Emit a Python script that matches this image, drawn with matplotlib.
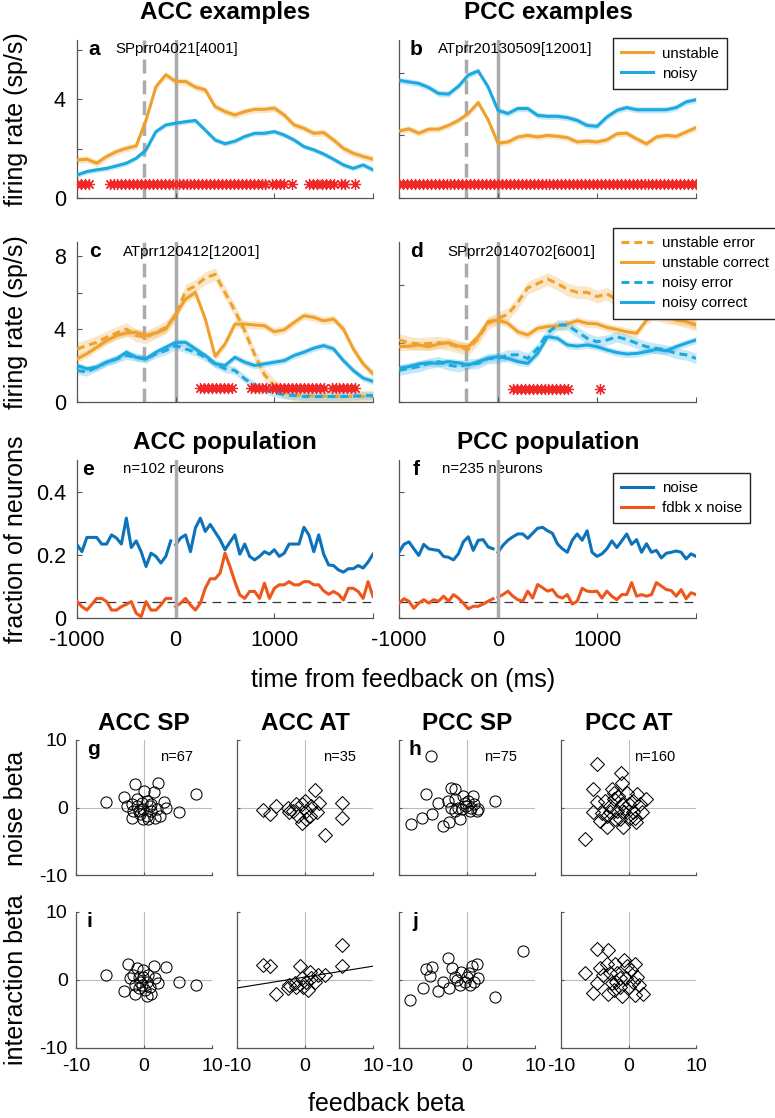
#!/usr/bin/env python3
"""
Feedback x noise figure: example neurons, population fractions, beta scatter
"""

import numpy as np
import matplotlib
matplotlib.use('Agg')
import matplotlib.pyplot as plt

plt.rcParams['font.family'] = ['Liberation Sans', 'DejaVu Sans']

# ---------------- example neurons (a-d), firing rate every 100 ms ----------------
t_ex = np.arange(-1000, 2001, 100)
cue_t = -320  # dashed line

a_unstable = [1.54, 1.57, 1.41, 1.68, 1.88, 2.01, 2.11, 3.16, 4.51, 4.99, 4.72, 4.72, 4.49, 4.38, 3.70, 3.50,
              3.36, 3.50, 3.59, 3.59, 3.64, 3.36, 2.96, 2.82, 2.62, 2.65, 2.35, 2.01, 1.81, 1.68, 1.57]
a_noisy = [0.93, 1.07, 1.14, 1.20, 1.30, 1.41, 1.61, 1.95, 2.69, 2.96, 3.03, 3.09, 3.14, 2.75, 2.35, 2.20,
           2.30, 2.49, 2.62, 2.62, 2.69, 2.55, 2.35, 2.08, 1.95, 1.78, 1.57, 1.34, 1.20, 1.34, 1.14]

b_unstable = [2.14, 2.21, 2.07, 2.20, 2.20, 2.32, 2.48, 2.70, 3.05, 2.50, 1.75, 1.79, 1.95, 2.00, 1.95, 2.00,
              1.97, 1.93, 1.79, 1.82, 1.79, 1.86, 2.05, 2.07, 1.89, 1.73, 1.95, 2.00, 1.97, 2.11, 2.25]
b_noisy = [3.76, 3.71, 3.66, 3.53, 3.34, 3.32, 3.57, 3.93, 4.06, 3.55, 2.80, 2.70, 2.86, 2.86, 2.64, 2.61,
           2.61, 2.57, 2.48, 2.32, 2.29, 2.59, 2.80, 2.89, 2.82, 2.82, 2.82, 2.82, 2.89, 3.07, 3.14]

c_unst_err = [2.91, 3.09, 3.27, 3.55, 3.78, 4.00, 3.64, 3.55, 3.82, 4.09, 4.73, 6.09, 6.36, 6.80, 7.00, 6.00,
              5.00, 3.90, 2.60, 1.50, 0.90, 0.55, 0.40, 0.35, 0.33, 0.32, 0.30, 0.30, 0.30, 0.30, 0.30]
c_unst_cor = [2.36, 2.64, 3.00, 3.36, 3.64, 3.78, 3.82, 3.64, 3.78, 4.00, 4.82, 5.64, 6.00, 4.55, 2.50, 3.18,
              4.27, 4.27, 4.22, 4.18, 3.85, 3.96, 4.36, 4.73, 4.64, 4.45, 4.55, 4.00, 2.91, 2.09, 1.55]
c_noisy_err = [1.73, 1.64, 1.91, 2.18, 2.36, 2.55, 2.45, 2.36, 2.64, 2.82, 3.09, 2.91, 2.73, 2.45, 2.09, 1.82,
               1.73, 1.27, 0.91, 0.70, 0.50, 0.40, 0.35, 0.30, 0.30, 0.30, 0.30, 0.30, 0.32, 0.35, 0.35]
c_noisy_cor = [2.00, 1.82, 1.91, 2.18, 2.36, 2.73, 2.45, 2.36, 2.73, 3.00, 3.27, 3.27, 2.91, 2.55, 2.09, 2.00,
               2.45, 2.18, 2.00, 2.09, 2.18, 2.27, 2.55, 2.73, 2.95, 3.09, 2.91, 2.27, 1.73, 1.31, 1.13]

d_unst_err = [2.12, 2.03, 1.98, 2.00, 2.03, 1.98, 1.89, 1.80, 2.18, 2.69, 2.86, 3.00, 3.40, 3.90, 4.05, 4.20,
              4.05, 3.85, 3.75, 3.75, 3.60, 3.70, 3.50, 3.30, 3.20, 3.10, 3.00, 2.90, 2.85, 2.75, 2.65]
d_unst_cor = [1.89, 1.91, 1.95, 1.89, 1.98, 2.03, 1.91, 1.89, 2.23, 2.75, 2.80, 2.69, 2.40, 2.29, 2.52, 2.58,
              2.60, 2.67, 2.78, 2.69, 2.67, 2.55, 2.48, 2.40, 2.35, 2.80, 2.97, 2.92, 2.80, 2.75, 2.63]
d_noisy_err = [1.09, 1.15, 1.21, 1.32, 1.38, 1.26, 1.21, 1.30, 1.32, 1.49, 1.49, 1.61, 1.61, 1.49, 1.83, 2.35,
               2.63, 2.63, 2.40, 2.18, 2.06, 2.12, 2.23, 2.14, 2.01, 1.89, 1.83, 1.78, 1.66, 1.61, 1.49]
d_noisy_cor = [1.15, 1.21, 1.30, 1.34, 1.32, 1.38, 1.34, 1.26, 1.38, 1.49, 1.55, 1.49, 1.38, 1.32, 1.66, 2.23,
               2.18, 1.95, 1.91, 1.95, 1.89, 1.78, 1.69, 1.64, 1.66, 1.72, 1.80, 1.75, 1.89, 2.01, 2.12]

# significant bins (start, end) in ms, marked with red asterisks
sig_step = 40
a_sig = [(-1000, -870), (-670, -20), (30, 920), (980, 1130), (1180, 1180), (1350, 1430),
         (1480, 1620), (1680, 1730), (1820, 1850)]
b_sig = [(-1000, 2000)]
c_sig = [(250, 590), (760, 930), (980, 1510), (1580, 1820)]
d_sig = [(150, 740), (1030, 1030)]

# ---------------- population (e, f), every 50 ms ----------------
t_pre = np.arange(-1000, -49, 50)
t_post = np.arange(0, 2001, 50)

e_noise_pre = [0.232, 0.210, 0.255, 0.255, 0.255, 0.234, 0.234, 0.263, 0.253, 0.234, 0.316, 0.223, 0.244,
               0.210, 0.163, 0.205, 0.195, 0.174, 0.195, 0.244]
e_noise_post = [0.232, 0.253, 0.263, 0.210, 0.285, 0.316, 0.274, 0.296, 0.272, 0.248, 0.216, 0.240, 0.263,
                0.202, 0.234, 0.195, 0.184, 0.195, 0.210, 0.202, 0.216, 0.195, 0.205, 0.234, 0.234, 0.234,
                0.287, 0.263, 0.210, 0.263, 0.202, 0.168, 0.166, 0.152, 0.145, 0.156, 0.156, 0.166, 0.158,
                0.177, 0.202]
e_inter_pre = [0.052, 0.036, 0.025, 0.043, 0.062, 0.062, 0.052, 0.025, 0.025, 0.036, 0.043, 0.052, 0.015,
               0.004, 0.052, 0.025, 0.025, 0.041, 0.062, 0.062]
e_inter_post = [0.036, 0.047, 0.062, 0.041, 0.025, 0.047, 0.094, 0.124, 0.124, 0.142, 0.205, 0.163, 0.115,
                0.073, 0.062, 0.084, 0.084, 0.062, 0.110, 0.062, 0.094, 0.105, 0.105, 0.115, 0.105, 0.105,
                0.115, 0.115, 0.105, 0.105, 0.086, 0.075, 0.084, 0.075, 0.057, 0.094, 0.094, 0.084, 0.062,
                0.115, 0.068]

f_noise_pre = [0.208, 0.233, 0.241, 0.219, 0.198, 0.233, 0.219, 0.216, 0.214, 0.195, 0.192, 0.184, 0.203,
               0.241, 0.257, 0.214, 0.246, 0.248, 0.225, 0.219]
f_noise_post = [0.208, 0.230, 0.246, 0.257, 0.266, 0.266, 0.252, 0.268, 0.284, 0.287, 0.276, 0.268, 0.235,
                0.219, 0.208, 0.246, 0.266, 0.246, 0.276, 0.208, 0.195, 0.203, 0.219, 0.244, 0.223, 0.244,
                0.266, 0.233, 0.248, 0.208, 0.235, 0.208, 0.214, 0.190, 0.205, 0.208, 0.212, 0.208, 0.187,
                0.203, 0.195]
f_inter_pre = [0.047, 0.061, 0.053, 0.031, 0.047, 0.058, 0.047, 0.058, 0.053, 0.069, 0.053, 0.074, 0.063,
               0.047, 0.029, 0.037, 0.037, 0.044, 0.053, 0.061]
f_inter_post = [0.066, 0.074, 0.085, 0.069, 0.058, 0.053, 0.085, 0.063, 0.106, 0.096, 0.085, 0.090, 0.069,
                0.063, 0.074, 0.044, 0.053, 0.094, 0.085, 0.083, 0.085, 0.063, 0.085, 0.069, 0.058, 0.074,
                0.074, 0.112, 0.069, 0.074, 0.069, 0.074, 0.112, 0.101, 0.090, 0.087, 0.069, 0.090, 0.061,
                0.080, 0.074]
chance = 0.05

# ---------------- beta scatter (g-j) ----------------
acc_sp_fb = [-5.6, -1.3, 2.1, 7.6, 5.1, 0.0, 1.5, -3.0, -2.5, -1.1, -0.3, 0.4, 0.9, 3.3, 2.9, -1.7, -0.6,
             0.6, 1.6, 2.4, -0.1, -0.8, 1.0, -1.6, 0.4, -0.2, 1.1, 1.9, -1.8, -1.0]
acc_sp_noise = [0.8, 3.5, 3.7, 2.0, -0.6, 2.4, 2.3, 1.5, 0.15, 1.2, 0.7, 1.0, 0.2, 0.0, 0.8, -1.6, -1.0,
                -1.7, -1.5, -1.2, -0.2, -0.5, -0.5, -0.5, -1.2, -1.7, 0.5, -0.2, 0.5, 0.25]
acc_at_fb = [-6.2, -5.2, -4.3, -2.5, -1.8, -1.0, -0.5, -0.5, 0.2, 0.7, 1.4, 2.1, 1.7, 3.0, 5.5, 5.4, 0.0,
             -1.3, 0.9, 0.2, -2.3]
acc_at_noise = [-0.3, -1.0, 0.25, 0.0, -0.5, -1.2, 0.5, -2.3, -0.5, -1.2, 2.6, 0.6, -0.7, -4.0, 0.6, -1.5,
                1.0, 0.5, 0.25, -1.7, -0.7]
pcc_sp_fb = [-5.3, -6.0, -8.3, -6.6, -5.1, -4.3, -3.6, -2.7, -2.3, -1.8, -2.8, 4.1, 0.9, -0.6, -1.1, -1.8,
             -1.3, -0.3, 0.15, 0.4, 1.1, 1.6, -2.3, -0.8, -0.1, -1.8, 0.6, 1.4]
pcc_sp_noise = [7.7, 2.0, -2.4, -1.6, -1.0, 0.7, -2.7, -2.2, 2.9, 2.8, 1.0, 1.0, 1.7, 1.7, -1.7, -0.5, 0.0,
                0.7, 1.0, -0.5, 0.5, -0.2, 0.0, -0.2, 0.25, 1.2, 0.0, -0.5]
pcc_at_fb = [-4.7, -1.1, -1.0, -5.3, -6.4, -4.7, -4.0, -4.2, -3.2, -2.5, -2.2, -1.7, -1.2, -0.8, -0.25, 0.0,
             0.7, 1.1, 1.2, 2.0, 2.6, -2.7, -3.5, -1.5, -0.5, 0.25, -2.0, -3.2, 0.7, -1.0, -2.7, 1.7, 1.0,
             -5.2, -2.2, -0.7]
pcc_at_noise = [6.5, 5.1, 3.7, 2.8, -4.6, 0.8, -0.8, -2.0, -2.9, 2.8, 1.2, -0.5, -1.7, -2.9, 2.2, 0.5, -0.7,
                -2.2, 2.0, -0.7, 1.2, 0.25, 1.0, 1.7, 0.0, -1.5, -1.7, -1.2, 1.0, 0.5, -0.7, 0.5, -1.5,
                -0.7, 2.2, -0.7]

acc_sp_fb2 = [-5.6, -2.3, -3.0, 0.5, 1.4, 3.2, 5.2, 7.7, -0.2, -1.1, -1.6, -0.8, -0.1, -0.6, -1.3, -1.3,
              0.9, 1.1, 2.1, 0.4, -2.1, 0.6, 1.6, 0.15, -0.8, -0.3]
acc_sp_inter = [0.8, 2.3, -1.6, -2.4, 2.0, 1.9, -0.25, -0.7, 1.5, 1.7, 0.7, 0.5, 0.5, -0.25, -0.7, -2.0,
                -1.0, -2.0, -0.5, -0.25, 0.25, 0.7, 0.25, -1.5, -1.2, -0.7]
acc_at_fb2 = [-6.2, -5.2, -4.3, -2.5, -2.3, -1.5, -0.7, -0.3, 0.1, 0.7, 0.9, 1.4, 1.9, 2.9, 5.4, 5.4, -0.5,
              0.4, -1.3]
acc_at_inter = [2.2, 2.0, -2.0, -1.2, -0.7, -0.5, 2.0, -1.0, -0.25, 1.2, 0.25, -0.25, 0.7, 0.7, 5.1, 2.0,
                0.25, -1.5, -1.1]
acc_at_fit = (0.16, 0.43)  # slope, intercept of regression line
pcc_sp_fb2 = [8.3, -8.4, -6.4, -4.3, -2.6, -6.0, -5.1, -5.4, -2.8, -3.5, -2.2, -1.8, -0.9, -1.1, 0.0, 0.8,
              1.4, 0.5, 1.1, 1.6, 4.1, -0.3, -1.5, 0.3]
pcc_sp_inter = [4.2, -2.9, -1.2, -1.6, -1.2, 1.6, 1.9, 0.6, 3.2, -0.25, 1.7, 0.4, 1.2, -0.7, 0.5, 2.0, 2.3,
                -0.7, -0.25, 0.25, -2.5, -0.25, 0.0, 1.1]
pcc_at_fb2 = [-4.7, -3.1, -6.4, -5.3, -4.7, -4.2, -3.8, -3.2, -3.0, -2.5, -2.0, -1.7, -1.3, -1.0, -0.7,
              -0.35, 0.0, 0.35, 1.0, 1.2, 1.6, 2.2, 1.0, -2.2, -1.2, 0.7, -2.7, -0.25, -1.8]
pcc_at_inter = [4.5, 4.4, 1.1, -1.9, -0.5, 1.7, 0.7, 2.4, -2.0, -0.4, 2.4, 1.0, -1.0, -2.4, 2.9, 0.25, -1.0,
                1.5, 2.4, 0.5, -0.7, -2.0, -2.2, -1.5, 0.25, -0.25, 1.0, 2.0, -0.25]

# ---------------- style ----------------
ORANGE = '#EFA12C'
BLUE = '#1CA8E0'
POP_BLUE = '#0C72BA'
POP_RED = '#EE561C'
AX_COL = '#555555'
VLINE = '#ABABAB'

W, H = 775, 1118
fig = plt.figure(figsize=(W / 100, H / 100), dpi=100)


def rect(l, t, r, b):
    return [l / W, 1 - b / H, (r - l) / W, (b - t) / H]


def style_axes(ax, xpad=9, ypad=8, size=15.5):
    for s in ['top', 'right']:
        ax.spines[s].set_visible(False)
    for s in ['left', 'bottom']:
        ax.spines[s].set_color(AX_COL)
        ax.spines[s].set_linewidth(0.9)
    ax.tick_params(direction='in', length=3.5, width=0.8, color=AX_COL, labelsize=size)
    ax.tick_params(axis='x', pad=xpad)
    ax.tick_params(axis='y', pad=ypad)


def sig_times(ranges):
    out = []
    for s, e in ranges:
        out.extend(np.arange(s, e + 1, sig_step))
    return np.array(out)


def plot_example(ax, traces, ylim, yticks, ylabels, sig, sig_y, letter, cell_id, id_x):
    ax.axvline(cue_t, color=VLINE, lw=2.5, ls=(0, (4, 2)), zorder=1)
    ax.axvline(0, color=VLINE, lw=2.5, zorder=1)
    for y, color, ls, sem, lab in traces:
        y = np.array(y)
        ax.fill_between(t_ex, y - sem, y + sem, color=color, alpha=0.25, lw=0, zorder=2)
    for y, color, ls, sem, lab in traces:
        ax.plot(t_ex, y, color=color, ls=ls, lw=2.2, label=lab, zorder=3,
                dashes=(2.6, 1.6) if ls == '--' else (None, None))
    st = sig_times(sig)
    ax.plot(st, np.full(len(st), sig_y), ls='none', marker=(8, 2, 0), ms=8,
            mec='#F02828', mew=0.9, zorder=4)
    ax.set_xlim(-1000, 2000)
    ax.set_ylim(*ylim)
    ax.set_xticks([-1000, 0, 1000, 2000])
    ax.set_xticklabels([])
    ax.set_yticks(yticks)
    ax.set_yticklabels(ylabels)
    ax.text(0.04 if letter in 'ac' else 0.037, 0.94, letter, transform=ax.transAxes, fontsize=15,
            fontweight='bold', ha='left', va='center')
    ax.text(id_x, 0.94, cell_id, transform=ax.transAxes, fontsize=10.8, ha='left', va='center')
    style_axes(ax)


legend_kw = dict(loc='upper left', borderaxespad=0, fontsize=10.8, frameon=True, fancybox=False,
                 edgecolor='#222222', handlelength=2.1, borderpad=0.55, labelspacing=0.4,
                 handletextpad=0.6, framealpha=1)

# a
ax_a = fig.add_axes(rect(77, 40, 373, 198))
plot_example(ax_a, [(a_unstable, ORANGE, '-', 0.14, 'unstable'), (a_noisy, BLUE, '-', 0.1, 'noisy')],
             (0, 6.4), [0, 2, 4, 6], ['0', '', '4', ''], a_sig, 0.57, 'a', 'SPprr04021[4001]', 0.128)
# b
ax_b = fig.add_axes(rect(399, 40, 696, 198))
plot_example(ax_b, [(b_unstable, ORANGE, '-', 0.1, 'unstable'), (b_noisy, BLUE, '-', 0.1, 'noisy')],
             (0, 5.05), [0, 2, 4], ['', '', ''], b_sig, 0.45, 'b', 'ATprr20130509[12001]', 0.131)
ax_b.legend(bbox_to_anchor=(0.72, 1.01), **legend_kw)
# c
ax_c = fig.add_axes(rect(77, 242, 373, 402))
plot_example(ax_c, [(c_unst_err, ORANGE, '--', 0.35, 'unstable error'),
                    (c_unst_cor, ORANGE, '-', 0.22, 'unstable correct'),
                    (c_noisy_err, BLUE, '--', 0.22, 'noisy error'),
                    (c_noisy_cor, BLUE, '-', 0.18, 'noisy correct')],
             (0, 8.77), [0, 2, 4, 6, 8], ['0', '', '4', '', '8'], c_sig, 0.75, 'c',
             'ATprr120412[12001]', 0.155)
# d
ax_d = fig.add_axes(rect(399, 242, 696, 402))
plot_example(ax_d, [(d_unst_err, ORANGE, '--', 0.22, 'unstable error'),
                    (d_unst_cor, ORANGE, '-', 0.14, 'unstable correct'),
                    (d_noisy_err, BLUE, '--', 0.18, 'noisy error'),
                    (d_noisy_cor, BLUE, '-', 0.12, 'noisy correct')],
             (0, 5.47), [0, 2, 4], ['', '', ''], d_sig, 0.44, 'd', 'SPprr20140702[6001]', 0.162)
ax_d.legend(bbox_to_anchor=(0.72, 1.0875), **legend_kw)


def plot_population(ax, noise_pre, noise_post, inter_pre, inter_post, letter, ntext, lx, nx):
    ax.axvline(0, color=VLINE, lw=2.5, zorder=4)
    ax.axhline(chance, color='#333333', lw=0.9, ls=(0, (7, 5)), zorder=1)
    ax.plot(t_pre, noise_pre, color=POP_BLUE, lw=2.2, zorder=3, label='noise')
    ax.plot(t_post, noise_post, color=POP_BLUE, lw=2.2, zorder=3)
    ax.plot(t_pre, inter_pre, color=POP_RED, lw=2.2, zorder=3, label='fdbk x noise')
    ax.plot(t_post, inter_post, color=POP_RED, lw=2.2, zorder=3)
    ax.set_xlim(-1000, 2000)
    ax.set_ylim(0, 0.5)
    ax.set_xticks([-1000, 0, 1000, 2000])
    ax.set_xticklabels(['-1000', '0', '1000', ''])
    ax.set_yticks([0, 0.2, 0.4])
    ax.text(lx, 0.94, letter, transform=ax.transAxes, fontsize=15, fontweight='bold',
            ha='left', va='center')
    ax.text(nx, 0.94, ntext, transform=ax.transAxes, fontsize=10.8, ha='left', va='center')
    style_axes(ax)


ax_e = fig.add_axes(rect(77, 460, 373, 618))
plot_population(ax_e, e_noise_pre, e_noise_post, e_inter_pre, e_inter_post, 'e', 'n=102 neurons', 0.017, 0.155)
ax_e.set_yticklabels(['0', '0.2', '0.4'])
ax_f = fig.add_axes(rect(399, 460, 696, 618))
plot_population(ax_f, f_noise_pre, f_noise_post, f_inter_pre, f_inter_post, 'f', 'n=235 neurons', 0.047, 0.145)
ax_f.set_yticklabels(['', '', ''])
ax_f.legend(bbox_to_anchor=(0.72, 0.918), **legend_kw)


def plot_scatter(ax, x, y, marker, ms, letter=None, lx=0.08, ntext=None, nx=0.62,
                 xlab=False, ylab=False, fit=None):
    ax.axhline(0, color='#BDBDBD', lw=0.8, zorder=0)
    ax.axvline(0, color='#BDBDBD', lw=0.8, zorder=0)
    ax.plot(x, y, ls='none', marker=marker, ms=ms, mfc='none', mec='black', mew=0.75, zorder=2)
    if fit is not None:
        xx = np.array([-10, 10])
        ax.plot(xx, fit[0] * xx + fit[1], color='black', lw=0.8, zorder=3)
    ax.set_xlim(-10, 10)
    ax.set_ylim(-10, 10)
    ax.set_xticks([-10, 0, 10])
    ax.set_yticks([-10, 0, 10])
    ax.set_xticklabels(['-10', '0', '10'] if xlab else [])
    ax.set_yticklabels(['-10', '0', '10'] if ylab else [])
    if letter:
        ax.text(lx, 0.93, letter, transform=ax.transAxes, fontsize=15, fontweight='bold',
                ha='left', va='center')
    if ntext:
        ax.text(nx, 0.875, ntext, transform=ax.transAxes, fontsize=10.5, ha='left', va='center')
    style_axes(ax, xpad=7, ypad=6, size=14)
    ax.tick_params(length=2.5)


cols = [(76, 212), (237, 373), (399, 535), (561, 696)]
rows = [(740, 875), (912, 1048)]
CIRC_MS, DIAM_MS = 8.0, 7.2
top_sets = [(acc_sp_fb, acc_sp_noise, 'o', CIRC_MS, 'g', 'n=67', 0.62),
            (acc_at_fb, acc_at_noise, 'D', DIAM_MS, None, 'n=35', 0.63),
            (pcc_sp_fb, pcc_sp_noise, 'o', CIRC_MS, 'h', 'n=75', 0.625),
            (pcc_at_fb, pcc_at_noise, 'D', DIAM_MS, None, 'n=160', 0.54)]
bot_sets = [(acc_sp_fb2, acc_sp_inter, 'o', CIRC_MS, 'i', None),
            (acc_at_fb2, acc_at_inter, 'D', DIAM_MS, None, acc_at_fit),
            (pcc_sp_fb2, pcc_sp_inter, 'o', CIRC_MS, 'j', None),
            (pcc_at_fb2, pcc_at_inter, 'D', DIAM_MS, None, None)]
letter_x = [0.08, 0.08, 0.07, 0.07]
col_titles = ['ACC SP', 'ACC AT', 'PCC SP', 'PCC AT']

for k, (l, r) in enumerate(cols):
    x, y, mk, ms, let, nt, nx = top_sets[k]
    ax = fig.add_axes(rect(l, rows[0][0], r, rows[0][1]))
    plot_scatter(ax, x, y, mk, ms, letter=let, lx=letter_x[k], ntext=nt, nx=nx, ylab=(k == 0))
    fig.text((l + r) / 2 / W, 1 - 723 / H, col_titles[k], fontsize=17.5, fontweight='bold',
             ha='center', va='center')
    x, y, mk, ms, let, fit = bot_sets[k]
    ax = fig.add_axes(rect(l, rows[1][0], r, rows[1][1]))
    plot_scatter(ax, x, y, mk, ms, letter=let, lx=[0.08, 0.08, 0.095, 0.07][k], xlab=True,
                 ylab=(k == 0), fit=fit)

# ---------------- titles and shared labels ----------------
for txt, xc, yc in [('ACC examples', 225, 13), ('PCC examples', 548, 13),
                    ('ACC population', 225, 443), ('PCC population', 548, 443)]:
    fig.text(xc / W, 1 - yc / H, txt, fontsize=17.5, fontweight='bold', ha='center', va='center')

for txt, yc in [('firing rate (sp/s)', 119), ('firing rate (sp/s)', 322),
                ('fraction of neurons', 539), ('noise beta', 808), ('interaction beta', 980)]:
    fig.text(16 / W, 1 - yc / H, txt, fontsize=18, rotation=90, ha='center', va='center')

fig.text(403 / W, 1 - 680 / H, 'time from feedback on (ms)', fontsize=18, ha='center', va='center')
fig.text(386 / W, 1 - 1104 / H, 'feedback beta', fontsize=18, ha='center', va='center')

fig.savefig('out.png', dpi=100)
